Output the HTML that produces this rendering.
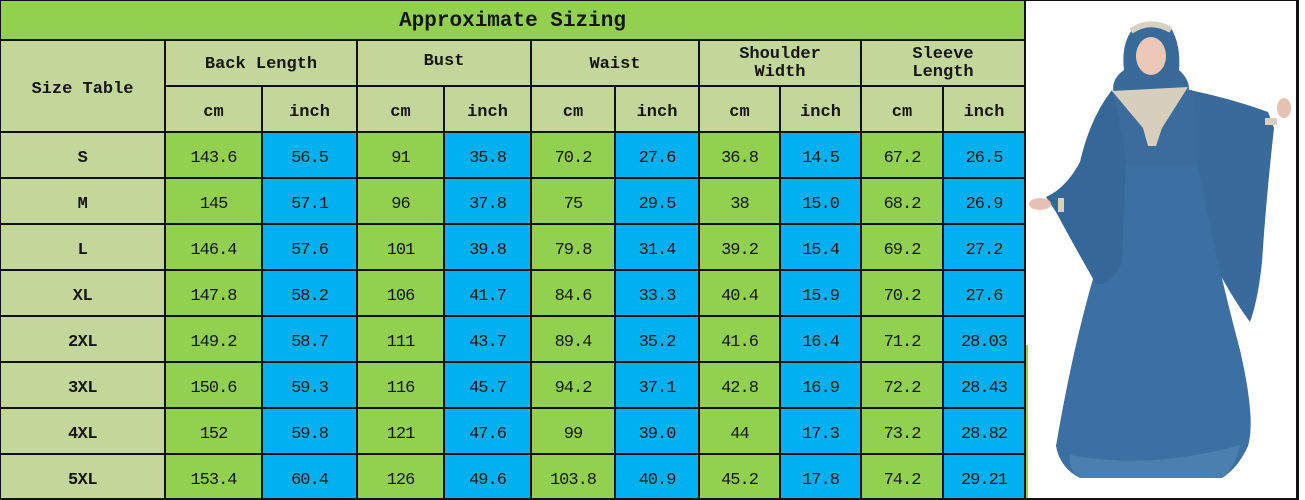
<!DOCTYPE html>
<html><head><meta charset="utf-8"><style>
*{margin:0;padding:0;box-sizing:border-box}
html,body{width:1305px;height:500px;overflow:hidden;background:#fff}
body{position:relative;font-family:"Liberation Mono","Noto Sans CJK SC",monospace;color:#161616}
.t{position:absolute;left:0;top:0;width:1025px;height:40px;background:#92d050;display:flex;align-items:center;justify-content:center;font-size:21px;font-weight:bold;padding-top:3px}
.row{position:absolute;left:0;width:1025px;height:46px}
.c{position:absolute;top:0;height:46px;display:flex;align-items:center;justify-content:center;padding-top:6px;font-size:17px;letter-spacing:-1px}
.a0{left:0;width:165px;background:#c4d79b;font-weight:bold;letter-spacing:-0.5px}
.a1{left:165px;width:97px}.a2{left:262px;width:95px}
.a3{left:357px;width:87px}.a4{left:444px;width:87px}
.a5{left:531px;width:84px}.a6{left:615px;width:84px}
.a7{left:699px;width:81px}.a8{left:780px;width:81px}
.a9{left:861px;width:82px}.a10{left:943px;width:82px}
.g{background:#92d050}.b{background:#00b0f0}
.h .c{background:#c4d79b;font-weight:bold;letter-spacing:0;padding-top:6px}
.hd{position:absolute;top:40px;height:46px;background:#c4d79b;display:flex;flex-direction:column;align-items:center;justify-content:center;font-size:17px;font-weight:bold;line-height:18px;text-align:center}
.vl{position:absolute;width:2px;background:#111;bottom:0}
.hl{position:absolute;height:2px;background:#111}
</style></head><body>
<div class="t">Approximate Sizing</div>
<div class="hd" style="left:0;width:165px;height:92px;padding-top:8px">Size Table</div>
<div class="hd" style="left:165px;width:192px;padding-top:4px">Back Length</div>
<div class="hd" style="left:357px;width:174px;padding-bottom:2px">Bust</div>
<div class="hd" style="left:531px;width:168px;padding-top:4px">Waist</div>
<div class="hd" style="left:699px;width:162px;padding-top:1px">Shoulder<br>Width</div>
<div class="hd" style="left:861px;width:164px;padding-top:1px">Sleeve<br>Length</div>
<div class="row h" style="top:86px">
<div class="c a1">cm</div><div class="c a2">inch</div><div class="c a3">cm</div><div class="c a4">inch</div><div class="c a5">cm</div><div class="c a6">inch</div><div class="c a7">cm</div><div class="c a8">inch</div><div class="c a9">cm</div><div class="c a10">inch</div>
</div>
<div class="row" style="top:132px"><div class="c a0">S</div><div class="c a1 g">143.6</div><div class="c a2 b">56.5</div><div class="c a3 g">91</div><div class="c a4 b">35.8</div><div class="c a5 g">70.2</div><div class="c a6 b">27.6</div><div class="c a7 g">36.8</div><div class="c a8 b">14.5</div><div class="c a9 g">67.2</div><div class="c a10 b">26.5</div></div>
<div class="row" style="top:178px"><div class="c a0">M</div><div class="c a1 g">145</div><div class="c a2 b">57.1</div><div class="c a3 g">96</div><div class="c a4 b">37.8</div><div class="c a5 g">75</div><div class="c a6 b">29.5</div><div class="c a7 g">38</div><div class="c a8 b">15.0</div><div class="c a9 g">68.2</div><div class="c a10 b">26.9</div></div>
<div class="row" style="top:224px"><div class="c a0">L</div><div class="c a1 g">146.4</div><div class="c a2 b">57.6</div><div class="c a3 g">101</div><div class="c a4 b">39.8</div><div class="c a5 g">79.8</div><div class="c a6 b">31.4</div><div class="c a7 g">39.2</div><div class="c a8 b">15.4</div><div class="c a9 g">69.2</div><div class="c a10 b">27.2</div></div>
<div class="row" style="top:270px"><div class="c a0">XL</div><div class="c a1 g">147.8</div><div class="c a2 b">58.2</div><div class="c a3 g">106</div><div class="c a4 b">41.7</div><div class="c a5 g">84.6</div><div class="c a6 b">33.3</div><div class="c a7 g">40.4</div><div class="c a8 b">15.9</div><div class="c a9 g">70.2</div><div class="c a10 b">27.6</div></div>
<div class="row" style="top:316px"><div class="c a0">2XL</div><div class="c a1 g">149.2</div><div class="c a2 b">58.7</div><div class="c a3 g">111</div><div class="c a4 b">43.7</div><div class="c a5 g">89.4</div><div class="c a6 b">35.2</div><div class="c a7 g">41.6</div><div class="c a8 b">16.4</div><div class="c a9 g">71.2</div><div class="c a10 b">28.03</div></div>
<div class="row" style="top:362px"><div class="c a0">3XL</div><div class="c a1 g">150.6</div><div class="c a2 b">59.3</div><div class="c a3 g">116</div><div class="c a4 b">45.7</div><div class="c a5 g">94.2</div><div class="c a6 b">37.1</div><div class="c a7 g">42.8</div><div class="c a8 b">16.9</div><div class="c a9 g">72.2</div><div class="c a10 b">28.43</div></div>
<div class="row" style="top:408px"><div class="c a0">4XL</div><div class="c a1 g">152</div><div class="c a2 b">59.8</div><div class="c a3 g">121</div><div class="c a4 b">47.6</div><div class="c a5 g">99</div><div class="c a6 b">39.0</div><div class="c a7 g">44</div><div class="c a8 b">17.3</div><div class="c a9 g">73.2</div><div class="c a10 b">28.82</div></div>
<div class="row" style="top:454px"><div class="c a0">5XL</div><div class="c a1 g">153.4</div><div class="c a2 b">60.4</div><div class="c a3 g">126</div><div class="c a4 b">49.6</div><div class="c a5 g">103.8</div><div class="c a6 b">40.9</div><div class="c a7 g">45.2</div><div class="c a8 b">17.8</div><div class="c a9 g">74.2</div><div class="c a10 b">29.21</div></div>

<!-- horizontal lines -->
<div class="hl" style="left:0;width:1299px;top:0;height:1px"></div>
<div class="hl" style="left:0;width:1026px;top:39px"></div>
<div class="hl" style="left:165px;width:861px;top:85px"></div>
<div class="hl" style="left:0;width:1026px;top:131px"></div>
<div class="hl" style="left:0;width:1026px;top:177px"></div>
<div class="hl" style="left:0;width:1026px;top:223px"></div>
<div class="hl" style="left:0;width:1026px;top:269px"></div>
<div class="hl" style="left:0;width:1026px;top:315px"></div>
<div class="hl" style="left:0;width:1026px;top:361px"></div>
<div class="hl" style="left:0;width:1026px;top:407px"></div>
<div class="hl" style="left:0;width:1026px;top:453px"></div>
<div class="hl" style="left:0;width:1299px;top:498px"></div>
<!-- vertical lines -->
<div class="vl" style="left:0;top:0;width:1px"></div>
<div class="vl" style="left:164px;top:40px"></div>
<div class="vl" style="left:261px;top:86px"></div>
<div class="vl" style="left:356px;top:40px"></div>
<div class="vl" style="left:443px;top:86px"></div>
<div class="vl" style="left:530px;top:40px"></div>
<div class="vl" style="left:614px;top:86px"></div>
<div class="vl" style="left:698px;top:40px"></div>
<div class="vl" style="left:779px;top:86px"></div>
<div class="vl" style="left:860px;top:40px"></div>
<div class="vl" style="left:942px;top:86px"></div>
<div class="vl" style="left:1024px;top:0"></div>
<div class="vl" style="left:1296px;top:0;width:3px"></div>
<div style="position:absolute;left:1026px;top:345px;width:2px;height:153px;background:#92d050"></div>

<svg style="position:absolute;left:0;top:0" width="1305" height="500" viewBox="0 0 1305 500">
  <path d="M1180,88 Q1230,98 1268,112 L1274,128 Q1266,200 1262,262 Q1258,300 1250,322 Q1228,292 1212,258 L1192,165 Z" fill="#386a9b"/>
  <path d="M1122,158 L1196,158 Q1216,260 1240,350 Q1256,420 1248,446 Q1238,468 1222,478 L1080,478 Q1060,468 1056,446 Q1074,340 1098,262 Q1114,200 1122,158 Z" fill="#3c70a2"/>
  <path d="M1070,455 Q1150,470 1240,445 Q1235,468 1222,478 L1080,478 Q1068,470 1070,455 Z" fill="#4b7fb0"/>
  <path d="M1110,92 L1192,90 Q1198,130 1196,166 L1122,166 Q1116,130 1110,92 Z" fill="#3a6d9e"/>
  <path d="M1112,90 Q1090,118 1080,162 Q1066,188 1046,197 L1056,212 Q1072,242 1096,284 Q1112,286 1122,262 L1126,160 Q1120,120 1112,90 Z" fill="#356898"/>
  <ellipse cx="1040" cy="204" rx="11" ry="6" fill="#e6c0b0"/>
  <rect x="1058" y="198" width="6" height="14" fill="#d8d0bc"/>
  <ellipse cx="1284" cy="108" rx="7" ry="10" fill="#e6c0b0"/>
  <rect x="1265" y="118" width="12" height="7" fill="#d8d0bc"/>
  <path d="M1132,30 Q1150,16 1171,28 Q1181,45 1179,70 Q1192,82 1188,94 L1114,94 Q1110,80 1124,70 Q1121,45 1132,30 Z" fill="#396b9a"/>
  <ellipse cx="1151" cy="56" rx="15" ry="19" fill="#ebc8b8"/>
  <path d="M1131,31 Q1150,18 1171,30" stroke="#d9d1c2" stroke-width="6" fill="none"/>
  <path d="M1112,91 L1188,87 L1162,128 L1156,146 L1148,146 L1143,128 Z" fill="#d7cfbb"/>
</svg>
</body></html>
